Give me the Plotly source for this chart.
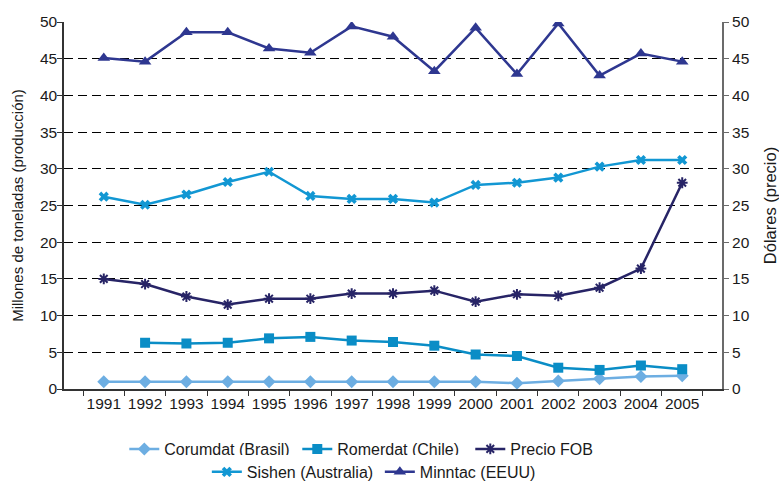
import plotly.graph_objects as go

years = [str(y) for y in range(1991, 2006)]
corumdat = [1.0, 1.0, 1.0, 1.0, 1.0, 1.0, 1.0, 1.0, 1.0, 1.0, 0.8, 1.1, 1.4, 1.7, 1.8]
romerdat = [None, 6.3, 6.2, 6.3, 6.9, 7.1, 6.6, 6.4, 5.9, 4.7, 4.5, 2.9, 2.6, 3.2, 2.7]
precio_fob = [15.0, 14.3, 12.6, 11.5, 12.3, 12.3, 13.0, 13.0, 13.4, 11.9, 12.9, 12.7, 13.8, 16.4, 28.1]
sishen = [26.2, 25.1, 26.5, 28.2, 29.6, 26.3, 25.9, 25.9, 25.4, 27.8, 28.1, 28.8, 30.3, 31.2, 31.2]
minntac = [45.1, 44.6, 48.6, 48.6, 46.4, 45.8, 49.4, 48.0, 43.3, 49.2, 42.9, 49.8, 42.7, 45.7, 44.6]

FONT = "Liberation Sans, Arial, sans-serif"

fig = go.Figure()
fig.add_trace(go.Scatter(x=years, y=corumdat, name="Corumdat (Brasil)", mode="lines+markers",
                         line=dict(color="#6DAEE2", width=2.5),
                         marker=dict(symbol="diamond", size=10, color="#6DAEE2"), legend="legend"))
fig.add_trace(go.Scatter(x=years, y=romerdat, name="Romerdat (Chile)", mode="lines+markers",
                         line=dict(color="#0A8DC6", width=2.5),
                         marker=dict(symbol="square", size=10, color="#0A8DC6"), legend="legend"))
fig.add_trace(go.Scatter(x=years, y=precio_fob, name="Precio FOB", mode="lines+markers",
                         line=dict(color="#272466", width=2.5),
                         marker=dict(symbol="asterisk", size=9, color="#272466",
                                     line=dict(color="#272466", width=2)),
                         yaxis="y2", legend="legend"))
fig.add_trace(go.Scatter(x=years, y=sishen, name="Sishen (Australia)", mode="lines+markers",
                         line=dict(color="#1297D3", width=2.5),
                         marker=dict(symbol="x", size=9, color="#1297D3"), legend="legend2"))
fig.add_trace(go.Scatter(x=years, y=minntac, name="Minntac (EEUU)", mode="lines+markers",
                         line=dict(color="#2E3790", width=2.5),
                         marker=dict(symbol="triangle-up", size=11, color="#2E3790"), legend="legend2"))

axis_common = dict(range=[0, 50], dtick=5, ticks="outside", ticklen=5, automargin=False,
                   tickfont=dict(size=15.5, color="#1a1a1a"), zeroline=False)

fig.update_layout(
    width=779, height=481,
    margin=dict(l=64, r=57, t=22, b=92, autoexpand=False),
    paper_bgcolor="white", plot_bgcolor="white",
    font=dict(family=FONT, color="#1a1a1a"),
    xaxis=dict(type="category", ticks="outside", tickson="boundaries", ticklen=5, automargin=False,
               tickangle=0,
               tickcolor="#333333", showline=True, linecolor="#333333", linewidth=1.5,
               showgrid=False, tickfont=dict(size=15.5, color="#1a1a1a")),
    yaxis=dict(**axis_common, showline=True, linecolor="#333333", linewidth=1.5, tickcolor="#333333",
               ticklabelstandoff=-3,
               showgrid=True, gridcolor="#000000", griddash="9px,5px", gridwidth=1,
               title=dict(text="Millones de toneladas (producción)", font=dict(size=15), standoff=13)),
    yaxis2=dict(**axis_common, showline=True, linecolor="#6b6b6b", linewidth=2, tickcolor="#6b6b6b",
                overlaying="y", side="right", showgrid=False,
                title=dict(text="Dólares (precio)", font=dict(size=16.5), standoff=16)),
    showlegend=True,
    legend=dict(orientation="h", x=0.486, xanchor="center",
                y=-0.1635, yanchor="middle",
                font=dict(size=16), itemwidth=30, entrywidth=128, entrywidthmode="pixels"),
    legend2=dict(orientation="h", x=0.48, xanchor="center",
                 y=-0.226, yanchor="middle",
                 font=dict(size=16), itemwidth=30, entrywidth=128, entrywidthmode="pixels"),
)

fig.write_html("out.html", config={"displayModeBar": False},
               post_script="document.body.style.margin='0';")
